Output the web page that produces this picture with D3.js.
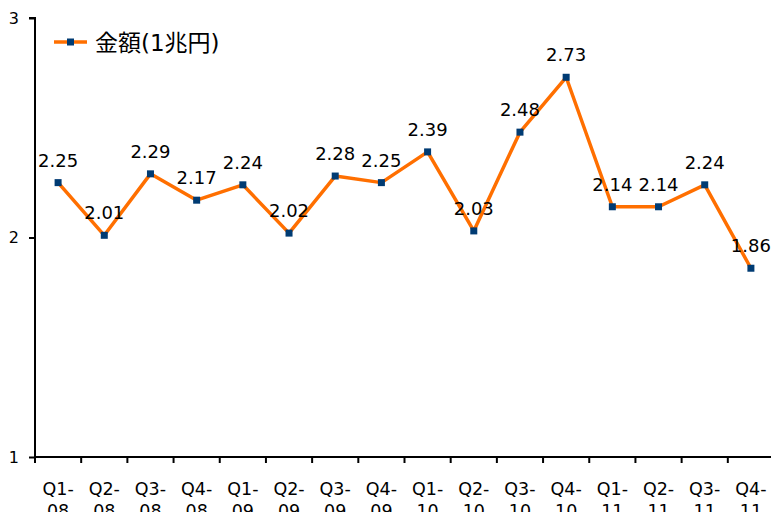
<!DOCTYPE html>
<html><head><meta charset="utf-8">
<script src="https://cdn.jsdelivr.net/npm/d3@7"></script>
<style>body{margin:0;background:#fff}svg{display:block}</style>
</head><body>
<svg id="c" width="771" height="512"></svg>
<script>
const quarters = ["Q1-","Q2-","Q3-","Q4-","Q1-","Q2-","Q3-","Q4-","Q1-","Q2-","Q3-","Q4-","Q1-","Q2-","Q3-","Q4-"];
const years = ["08","08","08","08","09","09","09","09","10","10","10","10","11","11","11","11"];
const values = [2.25,2.01,2.29,2.17,2.24,2.02,2.28,2.25,2.39,2.03,2.48,2.73,2.14,2.14,2.24,1.86];
const yTicks = [1,2,3];
const seriesName = "金額(1兆円)";

(function(){
const svg = d3.select("#c");
const font = "'DejaVu Sans', Verdana, sans-serif";
const pl = 35, pr = 774, pt = 18, pb = 457;
const idx = d3.range(values.length);
const x = d3.scaleBand().domain(idx).range([pl, pr]).padding(0);
const y = d3.scaleLinear().domain([1,3]).range([pb, pt]);

// y axis
const ya = svg.append("g").attr("transform", `translate(${pl},0)`)
  .call(d3.axisLeft(y).tickValues(yTicks).tickSize(6).tickFormat(d3.format("d")));
ya.select(".domain").attr("stroke","#000").attr("stroke-width",2).attr("d", `M-6,${pt}H0V${pb}`);
ya.selectAll(".tick line").attr("stroke","#000").attr("stroke-width",2);
ya.selectAll(".tick text").attr("font-family",font).attr("font-size",16).attr("fill","#000").attr("x",-16);

// x axis
const xa = svg.append("g").attr("transform", `translate(0,${pb})`)
  .call(d3.axisBottom(x).tickSize(0).tickFormat(""));
xa.select(".domain").attr("stroke","#000").attr("stroke-width",2).attr("d", `M${pl},0H${pr}`);
xa.selectAll(".tick").remove();
const bounds = d3.range(values.length + 1).map(i => pl + i * x.bandwidth());
xa.selectAll("line.b").data(bounds).enter().append("line")
  .attr("x1", d => d).attr("x2", d => d).attr("y1", 0).attr("y2", 6)
  .attr("stroke","#000").attr("stroke-width",2);
const xl = xa.selectAll("text.q").data(idx).enter().append("text")
  .attr("x", d => x(d) + x.bandwidth()/2)
  .attr("text-anchor","middle").attr("font-family",font).attr("font-size",17.5).attr("fill","#000");
xl.append("tspan").attr("x", d => x(d) + x.bandwidth()/2).attr("y", 38).text(d => quarters[d]);
xl.append("tspan").attr("x", d => x(d) + x.bandwidth()/2).attr("y", 60).text(d => years[d]);

// line
const cx = d => x(d) + x.bandwidth()/2;
svg.append("path").datum(idx)
  .attr("d", d3.line().x(cx).y(d => y(values[d])))
  .attr("fill","none").attr("stroke","#FF6F00").attr("stroke-width",3.5).attr("stroke-linejoin","round");
svg.selectAll("rect.m").data(idx).enter().append("rect")
  .attr("x", d => cx(d) - 3.5).attr("y", d => y(values[d]) - 3.5)
  .attr("width",7).attr("height",7).attr("fill","#003B73");
svg.selectAll("text.v").data(idx).enter().append("text")
  .attr("x", cx).attr("y", d => y(values[d]) - 16)
  .attr("text-anchor","middle").attr("font-family",font).attr("font-size",18).attr("fill","#000")
  .text(d => values[d].toFixed(2));

// legend
const lg = svg.append("g");
lg.append("line").attr("x1",54).attr("x2",87).attr("y1",42).attr("y2",42).attr("stroke","#FF6F00").attr("stroke-width",3.5);
lg.append("rect").attr("x",67).attr("y",38.5).attr("width",7).attr("height",7).attr("fill","#003B73");
lg.append("text").attr("x",95).attr("y",51).attr("font-family","'DejaVu Sans','Noto Sans CJK JP',sans-serif").attr("font-size",23).attr("fill","#000").text(seriesName);
})();
</script>
</body></html>
